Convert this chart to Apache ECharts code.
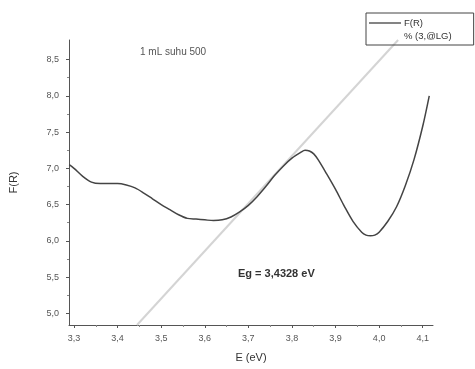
<!DOCTYPE html>
<html>
<head>
<meta charset="utf-8">
<script src="https://cdn.jsdelivr.net/npm/echarts@6/dist/echarts.min.js"></script>
<style>
  html, body { margin: 0; padding: 0; background: #fff; }
  #chart { width: 475px; height: 369px; }
</style>
</head>
<body>
<div id="chart"></div>
<script>
// ---- data ----
var energyEV = [3.289, 3.30, 3.32, 3.34, 3.36, 3.38, 3.40, 3.42, 3.44, 3.46, 3.48, 3.50, 3.52, 3.54, 3.56, 3.58, 3.60, 3.62, 3.64, 3.66, 3.68, 3.70, 3.72, 3.74, 3.76, 3.78, 3.80, 3.82, 3.83, 3.84, 3.85, 3.86, 3.88, 3.90, 3.92, 3.94, 3.96, 3.97, 3.98, 3.99, 4.00, 4.02, 4.04, 4.06, 4.08, 4.10, 4.115];
var fR = [7.05, 7.00, 6.89, 6.81, 6.79, 6.79, 6.79, 6.77, 6.73, 6.66, 6.58, 6.50, 6.43, 6.36, 6.31, 6.30, 6.29, 6.28, 6.29, 6.33, 6.40, 6.49, 6.61, 6.75, 6.90, 7.03, 7.14, 7.22, 7.25, 7.24, 7.20, 7.12, 6.92, 6.71, 6.48, 6.27, 6.12, 6.08, 6.07, 6.08, 6.12, 6.27, 6.47, 6.76, 7.12, 7.58, 8.00];
var fitX = [3.4445, 4.0436];
var fitY = [4.84, 8.77];
var xTicks = [3.3, 3.4, 3.5, 3.6, 3.7, 3.8, 3.9, 4.0, 4.1];
var xMinorTicks = [3.35, 3.45, 3.55, 3.65, 3.75, 3.85, 3.95, 4.05];
var yTicks = [5.0, 5.5, 6.0, 6.5, 7.0, 7.5, 8.0, 8.5];
var yMinorTicks = [5.25, 5.75, 6.25, 6.75, 7.25, 7.75, 8.25];
var seriesNames = ['F(R)', '% (3,@LG)'];
var xTitle = 'E (eV)';
var yTitle = 'F(R)';
var noteText = '1 mL suhu 500';
var egText = 'Eg = 3,4328 eV';

var X_MIN = 3.2885, X_MAX = 4.1236, Y_MIN = 4.84, Y_MAX = 8.77;

function comma(v) { return v.toFixed(1).replace('.', ','); }
function pairs(xs, ys) { return xs.map(function (x, i) { return [x, ys[i]]; }); }

var axisColor = '#555';
var font = 'Liberation Sans, Arial, sans-serif';
var labelStyle = { color: '#555', fontSize: 9, fontFamily: font };

var chart = echarts.init(document.getElementById('chart'), null, { renderer: 'canvas' });
chart.setOption({
  animation: false,
  backgroundColor: '#fff',
  grid: { left: 69, right: 42, top: 40, bottom: 44 },
  legend: {
    orient: 'vertical',
    left: 366, top: 13,
    padding: [5, 22, 4, 2],
    itemGap: 3,
    itemWidth: 32, itemHeight: 8,
    borderColor: '#444', borderWidth: 1,
    textStyle: { color: '#333', fontSize: 9.5, fontFamily: font, padding: [0, 0, 0, -2] },
    data: [
      { name: seriesNames[0], itemStyle: { opacity: 0 }, lineStyle: { color: '#333', width: 1.2 } },
      { name: seriesNames[1], itemStyle: { opacity: 0 }, lineStyle: { opacity: 0 } }
    ]
  },
  xAxis: [{
    type: 'value', min: X_MIN, max: X_MAX,
    name: xTitle, nameLocation: 'middle', nameGap: 27,
    nameTextStyle: { color: '#333', fontSize: 11, fontFamily: font },
    axisLine: { show: true, lineStyle: { color: axisColor, width: 1 } },
    axisTick: { show: true, length: 3, lineStyle: { color: axisColor }, customValues: xTicks },
    axisLabel: { show: true, margin: 9, customValues: xTicks, formatter: comma, ...labelStyle },
    splitLine: { show: false }
  }, {
    type: 'value', min: X_MIN, max: X_MAX, position: 'bottom',
    axisLine: { show: false },
    axisTick: { show: true, length: 2, lineStyle: { color: '#888' }, customValues: xMinorTicks },
    axisLabel: { show: false },
    splitLine: { show: false }
  }],
  yAxis: [{
    type: 'value', min: Y_MIN, max: Y_MAX,
    name: yTitle, nameLocation: 'middle', nameGap: 50, nameRotate: 90,
    nameTextStyle: { color: '#333', fontSize: 11, fontFamily: font },
    axisLine: { show: true, lineStyle: { color: axisColor, width: 1 } },
    axisTick: { show: true, length: 3, lineStyle: { color: axisColor }, customValues: yTicks },
    axisLabel: { show: true, margin: 10, customValues: yTicks, formatter: comma, ...labelStyle },
    splitLine: { show: false }
  }, {
    type: 'value', min: Y_MIN, max: Y_MAX, position: 'left',
    axisLine: { show: false },
    axisTick: { show: true, length: 2, lineStyle: { color: '#888' }, customValues: yMinorTicks },
    axisLabel: { show: false },
    splitLine: { show: false }
  }],
  series: [{
    name: seriesNames[1], type: 'line', symbol: 'none', silent: true,
    data: pairs(fitX, fitY),
    lineStyle: { color: '#d4d4d4', width: 2 },
    itemStyle: { color: '#d4d4d4' },
    z: 1
  }, {
    name: seriesNames[0], type: 'line', symbol: 'none', smooth: 0.3,
    data: pairs(energyEV, fR),
    lineStyle: { color: '#444', width: 1.5 },
    itemStyle: { color: '#444' },
    z: 3
  }],
  graphic: [{
    type: 'text', left: 140, top: 47,
    style: { text: noteText, fill: '#555', fontSize: 10, fontFamily: font }
  }, {
    type: 'text', left: 238, top: 268,
    style: { text: egText, fill: '#333', fontSize: 11, fontWeight: 'bold', fontFamily: font }
  }]
});
</script>
</body>
</html>
